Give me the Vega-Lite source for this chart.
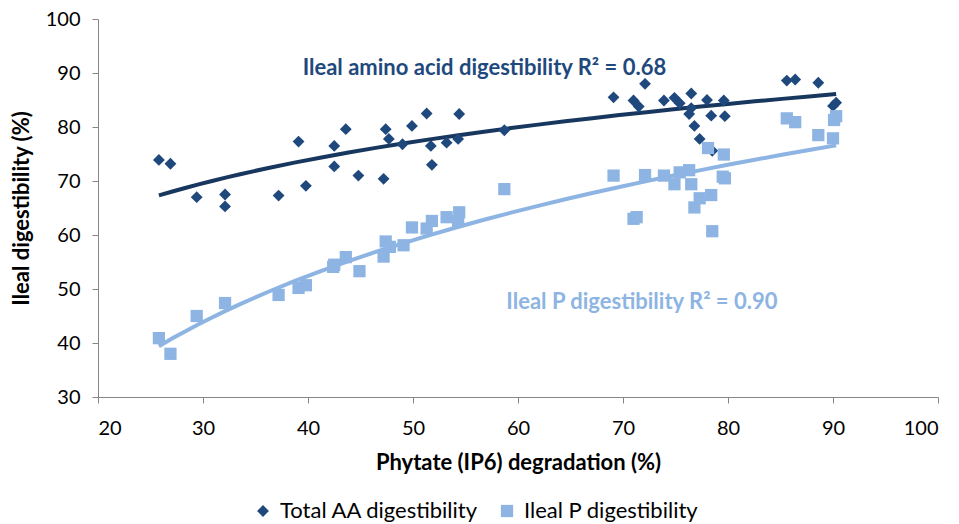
{
  "$schema": "https://vega.github.io/schema/vega-lite/v6.json",
  "autosize": "none",
  "width": 840,
  "height": 378,
  "padding": {"left": 98, "top": 19, "right": 21, "bottom": 127},
  "background": "white",
  "config": {
    "view": {"stroke": null},
    "font": "Lato",
    "axis": {"grid": false, "domainColor": "#868686", "tickColor": "#868686", "tickSize": 6, "labelColor": "#000000", "labelFont": "Lato", "labelFontSize": 20, "titleFont": "Lato", "titleFontSize": 22, "titleFontWeight": "bold", "titleColor": "#000000"}
  },
  "datasets": {
    "pts": [
      {"series": "Total AA digestibility", "x": 25.8, "y": 73.9},
      {"series": "Total AA digestibility", "x": 26.9, "y": 73.2},
      {"series": "Total AA digestibility", "x": 29.4, "y": 67.0},
      {"series": "Total AA digestibility", "x": 32.1, "y": 67.5},
      {"series": "Total AA digestibility", "x": 32.1, "y": 65.3},
      {"series": "Total AA digestibility", "x": 37.2, "y": 67.3},
      {"series": "Total AA digestibility", "x": 39.1, "y": 77.3},
      {"series": "Total AA digestibility", "x": 39.8, "y": 69.1},
      {"series": "Total AA digestibility", "x": 42.5, "y": 76.5},
      {"series": "Total AA digestibility", "x": 42.5, "y": 72.7},
      {"series": "Total AA digestibility", "x": 43.6, "y": 79.6},
      {"series": "Total AA digestibility", "x": 44.8, "y": 71.0},
      {"series": "Total AA digestibility", "x": 47.2, "y": 70.4},
      {"series": "Total AA digestibility", "x": 47.4, "y": 79.6},
      {"series": "Total AA digestibility", "x": 47.7, "y": 77.8},
      {"series": "Total AA digestibility", "x": 49.0, "y": 76.8},
      {"series": "Total AA digestibility", "x": 49.9, "y": 80.2},
      {"series": "Total AA digestibility", "x": 51.3, "y": 82.5},
      {"series": "Total AA digestibility", "x": 51.7, "y": 76.5},
      {"series": "Total AA digestibility", "x": 51.8, "y": 73.0},
      {"series": "Total AA digestibility", "x": 53.2, "y": 77.1},
      {"series": "Total AA digestibility", "x": 54.4, "y": 82.4},
      {"series": "Total AA digestibility", "x": 54.3, "y": 77.8},
      {"series": "Total AA digestibility", "x": 58.7, "y": 79.4},
      {"series": "Total AA digestibility", "x": 69.1, "y": 85.5},
      {"series": "Total AA digestibility", "x": 71.0, "y": 84.9},
      {"series": "Total AA digestibility", "x": 71.5, "y": 83.8},
      {"series": "Total AA digestibility", "x": 72.1, "y": 88.0},
      {"series": "Total AA digestibility", "x": 73.9, "y": 84.9},
      {"series": "Total AA digestibility", "x": 74.9, "y": 85.4},
      {"series": "Total AA digestibility", "x": 75.4, "y": 84.4},
      {"series": "Total AA digestibility", "x": 76.5, "y": 86.2},
      {"series": "Total AA digestibility", "x": 76.5, "y": 83.5},
      {"series": "Total AA digestibility", "x": 76.3, "y": 82.4},
      {"series": "Total AA digestibility", "x": 78.0, "y": 85.0},
      {"series": "Total AA digestibility", "x": 78.4, "y": 82.1},
      {"series": "Total AA digestibility", "x": 79.6, "y": 84.9},
      {"series": "Total AA digestibility", "x": 79.7, "y": 82.0},
      {"series": "Total AA digestibility", "x": 76.8, "y": 80.2},
      {"series": "Total AA digestibility", "x": 77.3, "y": 77.8},
      {"series": "Total AA digestibility", "x": 78.5, "y": 75.6},
      {"series": "Total AA digestibility", "x": 85.6, "y": 88.6},
      {"series": "Total AA digestibility", "x": 86.4, "y": 88.8},
      {"series": "Total AA digestibility", "x": 88.6, "y": 88.2},
      {"series": "Total AA digestibility", "x": 90.3, "y": 84.5},
      {"series": "Total AA digestibility", "x": 90.0, "y": 83.9},
      {"series": "Ileal P digestibility", "x": 25.8, "y": 40.9},
      {"series": "Ileal P digestibility", "x": 26.9, "y": 38.0},
      {"series": "Ileal P digestibility", "x": 29.4, "y": 45.0},
      {"series": "Ileal P digestibility", "x": 32.1, "y": 47.4},
      {"series": "Ileal P digestibility", "x": 37.2, "y": 48.9},
      {"series": "Ileal P digestibility", "x": 39.1, "y": 50.2},
      {"series": "Ileal P digestibility", "x": 39.8, "y": 50.7},
      {"series": "Ileal P digestibility", "x": 42.4, "y": 54.1},
      {"series": "Ileal P digestibility", "x": 42.5, "y": 54.5},
      {"series": "Ileal P digestibility", "x": 43.6, "y": 55.9},
      {"series": "Ileal P digestibility", "x": 44.9, "y": 53.3},
      {"series": "Ileal P digestibility", "x": 47.2, "y": 56.0},
      {"series": "Ileal P digestibility", "x": 47.4, "y": 58.8},
      {"series": "Ileal P digestibility", "x": 47.8, "y": 57.8},
      {"series": "Ileal P digestibility", "x": 49.1, "y": 58.1},
      {"series": "Ileal P digestibility", "x": 49.9, "y": 61.4},
      {"series": "Ileal P digestibility", "x": 51.3, "y": 61.2},
      {"series": "Ileal P digestibility", "x": 51.8, "y": 62.6},
      {"series": "Ileal P digestibility", "x": 53.2, "y": 63.3},
      {"series": "Ileal P digestibility", "x": 54.4, "y": 64.2},
      {"series": "Ileal P digestibility", "x": 54.3, "y": 62.6},
      {"series": "Ileal P digestibility", "x": 58.7, "y": 68.5},
      {"series": "Ileal P digestibility", "x": 69.1, "y": 71.0},
      {"series": "Ileal P digestibility", "x": 71.0, "y": 63.0},
      {"series": "Ileal P digestibility", "x": 71.3, "y": 63.3},
      {"series": "Ileal P digestibility", "x": 72.1, "y": 71.1},
      {"series": "Ileal P digestibility", "x": 73.9, "y": 71.0},
      {"series": "Ileal P digestibility", "x": 74.9, "y": 69.4},
      {"series": "Ileal P digestibility", "x": 75.4, "y": 71.6},
      {"series": "Ileal P digestibility", "x": 76.3, "y": 72.0},
      {"series": "Ileal P digestibility", "x": 76.5, "y": 69.4},
      {"series": "Ileal P digestibility", "x": 76.8, "y": 65.1},
      {"series": "Ileal P digestibility", "x": 77.3, "y": 66.8},
      {"series": "Ileal P digestibility", "x": 78.1, "y": 76.1},
      {"series": "Ileal P digestibility", "x": 78.4, "y": 67.4},
      {"series": "Ileal P digestibility", "x": 78.5, "y": 60.7},
      {"series": "Ileal P digestibility", "x": 79.5, "y": 70.8},
      {"series": "Ileal P digestibility", "x": 79.7, "y": 70.5},
      {"series": "Ileal P digestibility", "x": 79.6, "y": 74.9},
      {"series": "Ileal P digestibility", "x": 85.6, "y": 81.6},
      {"series": "Ileal P digestibility", "x": 86.4, "y": 80.9},
      {"series": "Ileal P digestibility", "x": 88.6, "y": 78.5},
      {"series": "Ileal P digestibility", "x": 90.0, "y": 77.9},
      {"series": "Ileal P digestibility", "x": 90.1, "y": 81.3},
      {"series": "Ileal P digestibility", "x": 90.3, "y": 82.0}
    ],
    "labels": [
      {"label": "Ileal amino acid digestibility R² = 0.68", "x": 56.8, "y": 90.9, "series": "AA"},
      {"label": "Ileal P digestibility R² = 0.90", "x": 71.8, "y": 47.6, "series": "P"}
    ]
  },
  "layer": [
    {
      "data": {"name": "pts"},
      "transform": [{"filter": "datum.series === 'Total AA digestibility'"}, {"regression": "y", "on": "x", "method": "log"}],
      "mark": {"type": "line", "color": "#17375E", "strokeWidth": 4},
      "encoding": {
        "x": {"field": "x", "type": "quantitative"},
        "y": {"field": "y", "type": "quantitative"}
      }
    },
    {
      "data": {"name": "pts"},
      "transform": [{"filter": "datum.series === 'Ileal P digestibility'"}, {"regression": "y", "on": "x", "method": "log"}],
      "mark": {"type": "line", "color": "#8DB4E2", "strokeWidth": 4},
      "encoding": {
        "x": {"field": "x", "type": "quantitative"},
        "y": {"field": "y", "type": "quantitative"}
      }
    },
    {
      "data": {"name": "pts"},
      "mark": {"type": "point", "filled": true, "opacity": 1},
      "encoding": {
        "x": {"field": "x", "type": "quantitative", "scale": {"domain": [20, 100], "nice": false, "zero": false}, "axis": {"values": [20, 30, 40, 50, 60, 70, 80, 90, 100], "title": "Phytate (IP6) degradation (%)", "titlePadding": 14, "labelPadding": 15}},
        "y": {"field": "y", "type": "quantitative", "scale": {"domain": [30, 100], "nice": false, "zero": false}, "axis": {"values": [30, 40, 50, 60, 70, 80, 90, 100], "title": "Ileal digestibility (%)", "titlePadding": 12, "labelPadding": 12}},
        "color": {"field": "series", "type": "nominal", "scale": {"domain": ["Total AA digestibility", "Ileal P digestibility"], "range": ["#1F497D", "#8DB4E2"]}, "legend": {"title": null, "orient": "none", "direction": "horizontal", "legendX": 154, "legendY": 481, "labelFontSize": 22, "labelFont": "Lato", "labelColor": "#000000", "labelLimit": 0, "symbolSize": 90, "columnPadding": 17, "labelOffset": 6}},
        "shape": {"field": "series", "type": "nominal", "scale": {"domain": ["Total AA digestibility", "Ileal P digestibility"], "range": ["diamond", "square"]}},
        "size": {"field": "series", "type": "nominal", "scale": {"domain": ["Total AA digestibility", "Ileal P digestibility"], "range": [140, 150]}, "legend": null}
      }
    },
    {
      "data": {"name": "labels"},
      "transform": [{"filter": "datum.series === 'AA'"}],
      "mark": {"type": "text", "font": "Lato", "fontSize": 22, "fontWeight": "bold", "align": "center", "baseline": "middle", "color": "#1F497D"},
      "encoding": {
        "x": {"field": "x", "type": "quantitative"},
        "y": {"field": "y", "type": "quantitative"},
        "text": {"field": "label"}
      }
    },
    {
      "data": {"name": "labels"},
      "transform": [{"filter": "datum.series === 'P'"}],
      "mark": {"type": "text", "font": "Lato", "fontSize": 22, "fontWeight": "bold", "align": "center", "baseline": "middle", "color": "#8DB4E2"},
      "encoding": {
        "x": {"field": "x", "type": "quantitative"},
        "y": {"field": "y", "type": "quantitative"},
        "text": {"field": "label"}
      }
    }
  ]
}
